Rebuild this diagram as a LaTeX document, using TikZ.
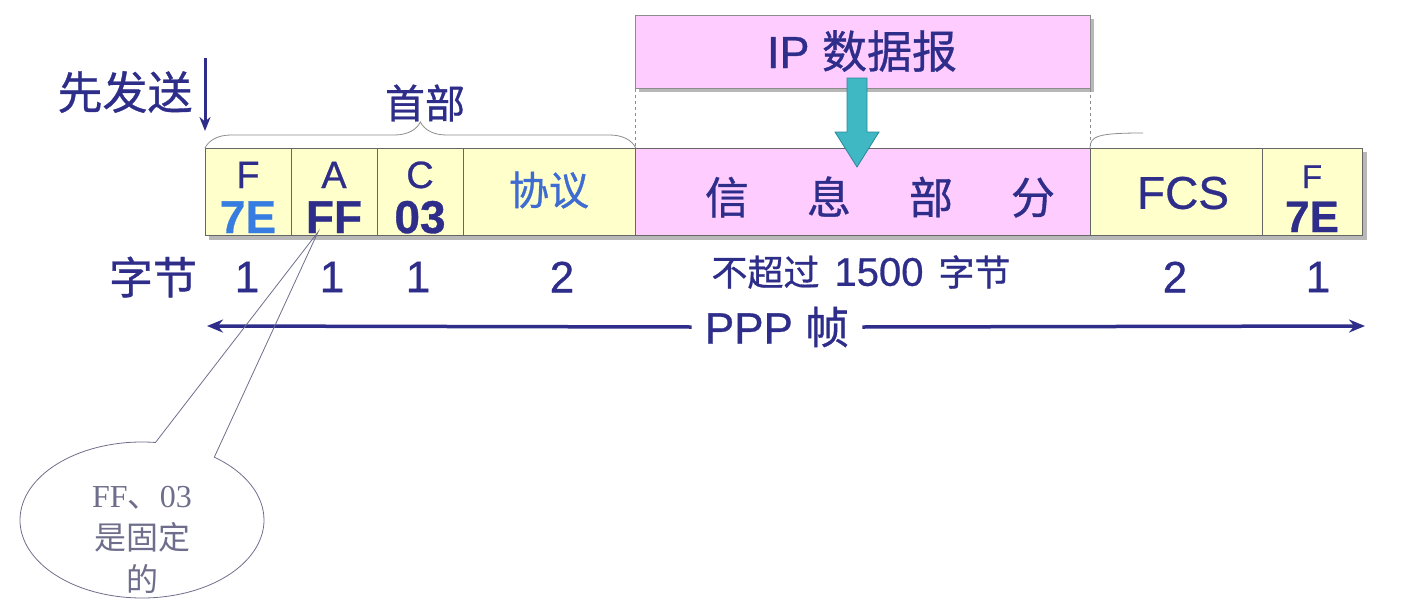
\documentclass[tikz,border=0pt]{standalone}
\usepackage{fontspec}
\setmainfont{Liberation Sans}[FakeBold=0.7]
\newfontfamily\cjk{Noto Sans CJK SC}[FakeBold=0.8]
\newfontfamily\serifl{Liberation Serif}
\newfontfamily\cjklight{Noto Sans CJK SC}
\usetikzlibrary{shapes.callouts,decorations.pathreplacing,arrows.meta}
\definecolor{navy}{RGB}{46,46,138}
\definecolor{brightblue}{RGB}{55,125,225}
\definecolor{protoblue}{RGB}{62,108,208}
\definecolor{yel}{RGB}{255,255,204}
\definecolor{pnk}{RGB}{255,204,255}
\definecolor{tealf}{RGB}{64,184,196}
\definecolor{teald}{RGB}{40,135,155}
\definecolor{callc}{RGB}{110,110,140}
\newcommand{\fs}[1]{\fontsize{#1}{#1}\selectfont}
\begin{document}
\begin{tikzpicture}[x=1pt,y=-1pt,
  cell/.style={draw=black!60, line width=0.8pt, minimum height=87pt, inner sep=0pt, anchor=north west},
  txt/.style={inner sep=0pt, text=navy},
  arr/.style={draw=navy, line width=3.5pt, -{Stealth[length=16pt,width=13pt]}}]
\useasboundingbox (0,0) rectangle (1416,608);
% shadows
\fill[black!28] (209,152) rectangle (1367,240);
\fill[black!28] (639,19) rectangle (1094,92);
% IP datagram
\node[draw=black!45, line width=0.8pt, fill=pnk, minimum width=455pt, minimum height=73pt, inner sep=0pt, anchor=north west] (ip) at (635,15) {};
\node[txt] (iptxt) at (862,51) {\fs{45}IP {\cjk 数据报}};
% frame cells
\node[cell, fill=yel, minimum width=86pt] (fF) at (205,148) {};
\node[cell, fill=yel, minimum width=86pt] (fA) at (291,148) {};
\node[cell, fill=yel, minimum width=86pt] (fC) at (377,148) {};
\node[cell, fill=yel, minimum width=172pt] (proto) at (463,148) {};
\node[cell, fill=pnk, minimum width=455pt] (info) at (635,148) {};
\node[cell, fill=yel, minimum width=172pt] (fcs) at (1090,148) {};
\node[cell, fill=yel, minimum width=100pt] (fE) at (1262,148) {};
% dashed guides
\draw[black!45, dashed, line width=0.8pt] (ip.south west) -- (info.north west);
\draw[black!45, dashed, line width=0.8pt] (ip.south east) -- (info.north east);
% cell texts
\node[txt, anchor=base] (tF1) at (248,188) {\fs{38}F};
\node[txt, anchor=base, text=brightblue] (tF2) at (248,233) {\fs{46}\bfseries 7E};
\node[txt, anchor=base] (tA1) at (334,188) {\fs{38}A};
\node[txt, anchor=base] (tA2) at (334,233) {\fs{46}\bfseries FF};
\node[txt, anchor=base] (tC1) at (420,188) {\fs{38}C};
\node[txt, anchor=base] (tC2) at (420,233) {\fs{46}\bfseries 03};
\node[txt, text=protoblue] (tP) at (549,190) {\fs{40}\cjk 协议};
\node[txt] (tI) at (880,197) {\fs{44}\cjk 信\hskip58pt 息\hskip58pt 部\hskip58pt 分};
\node[txt] (tFCS) at (1183,193) {\fs{46}FCS};
\node[txt, anchor=base] (tE1) at (1312,188) {\fs{33}F};
\node[txt, anchor=base] (tE2) at (1312,232) {\fs{44}\bfseries 7E};
% teal arrow
\draw[fill=tealf, draw=teald, line width=0.8pt] (847,78) -- (867,78) -- (867,132) -- (879,132) -- (857,167) -- (835,132) -- (847,132) -- cycle;
% brace
\draw[black!45, line width=0.8pt, decorate, decoration={brace, amplitude=26pt}] (fF.north west) -- (proto.north east);
\node[txt] (head) at (425,103) {\fs{40}\cjk 首部};
\draw[black!45, line width=0.8pt] (fcs.north west) .. controls (1090,136) and (1098,133) .. (1143,133);
% send first
\node[txt] (send) at (125,92) {\fs{45}\cjk 先发送};
\coordinate (sendtop) at (205,58);
\coordinate (sendend) at (205,131);
\draw[draw=navy, line width=3pt, -{Stealth[length=14pt,width=11pt]}] (sendtop) -- (sendend);
% bytes row
\node[txt] (bytes) at (153,277) {\fs{44}\cjk 字节};
\node[txt] (b1) at (247,277) {\fs{44}1};
\node[txt] (b2) at (332,277) {\fs{44}1};
\node[txt] (b3) at (418,277) {\fs{44}1};
\node[txt] (b4) at (562,277) {\fs{44}2};
\node[txt] (b5) at (861,272) {\fs{36}{\cjk 不超过}\hskip15pt{\fs{40}1500}\hskip15pt{\cjk 字节}};
\node[txt] (b6) at (1175,277) {\fs{44}2};
\node[txt] (b7) at (1318,277) {\fs{44}1};
% PPP frame arrow
\node[txt, inner xsep=13pt] (ppp) at (777,327) {\fs{44}PPP {\cjk 帧}};
\coordinate (pl) at (207,326);
\coordinate (pr) at (1365,326);
\draw[arr] (ppp.west) -- (pl);
\draw[arr] (ppp.east) -- (pr);
% callout
\coordinate (fftip) at (318,232);
\node[ellipse callout, draw=callc, line width=0.8pt, minimum width=244pt, minimum height=156pt, callout absolute pointer={(fftip)}, callout pointer arc=30] (note) at (142,520) {};
\node[txt, text=callc, align=center, font=\fontsize{32}{42}\selectfont] (notetxt) at (142,540) {{\serifl FF}{\cjklight 、}{\serifl 03}\\{\cjklight 是固定}\\{\cjklight 的}};
\end{tikzpicture}
\end{document}
